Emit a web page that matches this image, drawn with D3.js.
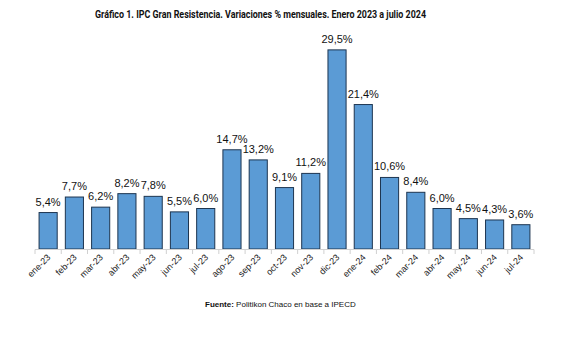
<!DOCTYPE html>
<html><head><meta charset="utf-8">
<script src="https://cdn.jsdelivr.net/npm/d3@7/dist/d3.min.js"></script>
<style>body{margin:0;background:#fff}</style>
</head><body>
<svg id="c" width="568" height="344"></svg>
<script>
const categories = ["ene-23","feb-23","mar-23","abr-23","may-23","jun-23","jul-23","ago-23","sep-23","oct-23","nov-23","dic-23","ene-24","feb-24","mar-24","abr-24","may-24","jun-24","jul-24"];
const values = [5.4,7.7,6.2,8.2,7.8,5.5,6.0,14.7,13.2,9.1,11.2,29.5,21.4,10.6,8.4,6.0,4.5,4.3,3.6];
const titleText = "Gráfico 1. IPC Gran Resistencia. Variaciones % mensuales. Enero 2023 a julio 2024";

const svg = d3.select("#c");
const x = d3.scaleBand().domain(categories).range([35, 534]).paddingInner(0.31).paddingOuter(0.155);
const y = d3.scaleLinear().domain([0, 30]).range([249, 46.5]);
const fmt = v => d3.format(".1f")(v).replace(".", ",") + "%";

svg.append("text").attr("x", 95).attr("y", 18)
  .attr("textLength", 331).attr("lengthAdjust", "spacingAndGlyphs")
  .attr("font-family", "'Liberation Sans Narrow','Arial Narrow',Roboto,sans-serif").attr("font-weight", "bold")
  .attr("font-size", 11).attr("fill", "#111").text(titleText);

svg.selectAll("rect.bar").data(values).join("rect").attr("class", "bar")
  .attr("x", (d, i) => x(categories[i]))
  .attr("y", d => y(d))
  .attr("width", x.bandwidth())
  .attr("height", d => y(0) - y(d))
  .attr("fill", "#5B9BD5").attr("stroke", "#1d3550").attr("stroke-width", 1);

svg.selectAll("text.val").data(values).join("text").attr("class", "val")
  .attr("x", (d, i) => x(categories[i]) + x.bandwidth() / 2)
  .attr("y", d => y(d) - 7)
  .attr("text-anchor", "middle").attr("font-family", "'Liberation Sans',Arial,sans-serif")
  .attr("font-size", 11).attr("fill", "#111").text(d => fmt(d));

// axis
const step = x.step();
svg.append("line").attr("x1", 35).attr("x2", 534).attr("y1", 249.5).attr("y2", 249.5).attr("stroke", "#d0d0d0");
const bounds = d3.range(categories.length + 1).map(i => 35 + i * step);
svg.selectAll("line.tk").data(bounds).join("line").attr("class", "tk")
  .attr("x1", d => d).attr("x2", d => d).attr("y1", 249.5).attr("y2", 254).attr("stroke", "#d0d0d0");

svg.selectAll("text.cat").data(categories).join("text").attr("class", "cat")
  .attr("transform", d => `translate(${x(d) + x.bandwidth() / 2 + 3},${258}) rotate(-45)`)
  .attr("text-anchor", "end").attr("font-family", "'Liberation Sans',Arial,sans-serif")
  .attr("font-size", 9).attr("fill", "#222").text(d => d);

const src = svg.append("text").attr("x", 205).attr("y", 307)
  .attr("font-family", "'Liberation Sans',Arial,sans-serif").attr("font-size", 8).attr("fill", "#111");
src.append("tspan").attr("font-weight", "bold").text("Fuente:");
src.append("tspan").text(" Politikon Chaco en base a IPECD");
</script>
</body></html>
